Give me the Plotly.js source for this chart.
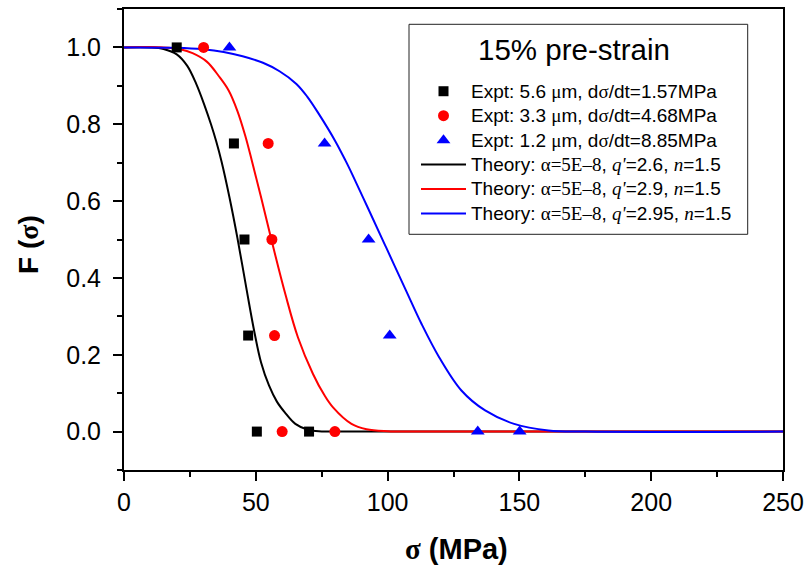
<!DOCTYPE html>
<html>
<head>
<meta charset="utf-8">
<script src="https://cdn.plot.ly/plotly-3.0.1.min.js"></script>
<style>html,body{margin:0;padding:0;background:#fff;}#chart{width:809px;height:570px;}</style>
</head>
<body>
<div id="chart"></div>
<script>
// Experimental data (sigma in MPa, F(sigma))
var exptA_x = [20, 41.7, 45.7, 47.1, 50.4, 70.2];
var exptA_y = [1.0, 0.75, 0.5, 0.25, 0.0, 0.0];
var exptB_x = [30.2, 54.7, 56.1, 57.1, 60.0, 80.0];
var exptB_y = [1.0, 0.75, 0.5, 0.25, 0.0, 0.0];
var exptC_x = [40.0, 76.1, 92.8, 100.8, 134.2, 150.1];
var exptC_y = [1.0, 0.75, 0.5, 0.25, 0.0, 0.0];

// Theory curves
var theoryA_x = [0, 10, 15, 20, 24, 27.4, 30.5, 33, 35, 37, 40, 43, 46.5, 49.5, 52, 55, 58, 61, 65, 70, 75, 80, 250];
var theoryA_y = [1, 1, 0.996, 0.982, 0.952, 0.905, 0.85, 0.80, 0.755, 0.703, 0.61, 0.505, 0.37, 0.258, 0.18, 0.12, 0.078, 0.05, 0.02, 0.004, 0.0005, 0, 0];
var theoryB_x = [0, 15, 21.3, 26, 31.4, 36, 39.7, 43, 46, 48.5, 52, 55.9, 61.2, 66, 71.7, 76, 79.3, 86.3, 92, 100, 110, 250];
var theoryB_y = [1, 1, 0.995, 0.985, 0.963, 0.925, 0.888, 0.835, 0.77, 0.705, 0.61, 0.5, 0.358, 0.245, 0.15, 0.095, 0.063, 0.02, 0.006, 0.001, 0, 0];
var theoryC_x = [0, 20, 30, 37.8, 45, 52.7, 59, 65.4, 69.5, 73.9, 80, 84, 86.5, 92.4, 99.4, 107, 112.9, 119.6, 128, 137, 148, 161, 175, 250];
var theoryC_y = [1, 0.999, 0.995, 0.988, 0.977, 0.96, 0.938, 0.905, 0.872, 0.827, 0.758, 0.706, 0.671, 0.584, 0.48, 0.367, 0.28, 0.193, 0.107, 0.055, 0.02, 0.003, 0, 0];

var xTickVals = [0, 50, 100, 150, 200, 250];
var yTickVals = [0.0, 0.2, 0.4, 0.6, 0.8, 1.0];

var SERIF = 'font-family:Liberation Serif,Times New Roman,serif';
var SZ = 'font-size:19px;';
function wrap(s) { return '<span style="' + SZ + '">' + s + '</span>'; }
function sym(c) { return '<span style="' + SZ + SERIF + '">' + c + '</span>'; }
var nameA = wrap('Expt: 5.6 ') + sym('μ') + wrap('m, d') + sym('σ') + wrap('/dt=1.57MPa');
var nameB = wrap('Expt: 3.3 ') + sym('μ') + wrap('m, d') + sym('σ') + wrap('/dt=4.68MPa');
var nameC = wrap('Expt: 1.2 ') + sym('μ') + wrap('m, d') + sym('σ') + wrap('/dt=8.85MPa');
function theoryName(q) {
  return wrap('Theory: ') + sym('α=5E–8') + wrap(', ') +
         '<span style="' + SZ + SERIF + ';font-style:italic">q\'</span>' + wrap('=' + q + ', ') +
         '<span style="' + SZ + SERIF + ';font-style:italic">n</span>' + wrap('=1.5');
}

var traces = [
  {x: theoryA_x, y: theoryA_y, mode: 'lines', line: {color: '#000000', width: 2, shape: 'spline', smoothing: 1}, name: theoryName('2.6'), legendrank: 4},
  {x: theoryB_x, y: theoryB_y, mode: 'lines', line: {color: '#ff0000', width: 2, shape: 'spline', smoothing: 1}, name: theoryName('2.9'), legendrank: 5},
  {x: theoryC_x, y: theoryC_y, mode: 'lines', line: {color: '#0000ff', width: 2, shape: 'spline', smoothing: 1}, name: theoryName('2.95'), legendrank: 6},
  {x: exptA_x, y: exptA_y, mode: 'markers', marker: {symbol: 'square', size: 10, color: '#000000'}, name: nameA, legendrank: 1},
  {x: exptB_x, y: exptB_y, mode: 'markers', marker: {symbol: 'circle', size: 11, color: '#ff0000'}, name: nameB, legendrank: 2},
  {x: exptC_x, y: exptC_y, mode: 'markers', marker: {symbol: 'triangle-up', size: 12, color: '#0000ff'}, name: nameC, legendrank: 3}
];

var FONT = 'Arial, Liberation Sans, sans-serif';
var L = 124, R = 26, T = 9, B = 100, W = 809, H = 570;
var pw = W - L - R, ph = H - T - B;
function px2x(p) { return (p - L) / pw; }
function px2y(p) { return (H - B - p) / ph; }

var layout = {
  width: W, height: H,
  margin: {l: L, r: R, t: T, b: B, pad: 0},
  paper_bgcolor: '#ffffff', plot_bgcolor: '#ffffff',
  font: {family: FONT, color: '#000000'},
  showlegend: true,
  legend: {
    x: px2x(416), y: px2y(74), xanchor: 'left', yanchor: 'top',
    bgcolor: 'rgba(0,0,0,0)', borderwidth: 0,
    font: {family: FONT, size: 16.5, color: '#000000'},
    itemwidth: 45, tracegroupgap: 0
  },
  xaxis: {
    range: [0, 250], tickvals: xTickVals, ticktext: xTickVals.map(String),
    showline: true, linecolor: '#000000', linewidth: 2, mirror: true,
    ticks: 'outside', ticklen: 9, tickwidth: 2, tickcolor: '#000000',
    minor: {ticks: 'outside', ticklen: 5, tickwidth: 2, tickcolor: '#000000', dtick: 25, tick0: 0, showgrid: false},
    showgrid: false, zeroline: false,
    tickfont: {family: FONT, size: 25, color: '#000000'}
  },
  yaxis: {
    range: [-0.1, 1.1], tickvals: yTickVals, ticktext: yTickVals.map(function (v) { return v.toFixed(1); }),
    showline: true, linecolor: '#000000', linewidth: 2, mirror: true,
    ticks: 'outside', ticklen: 9, tickwidth: 2, tickcolor: '#000000',
    minor: {ticks: 'outside', ticklen: 5, tickwidth: 2, tickcolor: '#000000', dtick: 0.1, tick0: 0, showgrid: false},
    showgrid: false, zeroline: false, ticklabelstandoff: 7,
    tickfont: {family: FONT, size: 25, color: '#000000'}
  },
  shapes: [
    {type: 'rect', xref: 'paper', yref: 'paper', x0: px2x(409), x1: px2x(747.7), y0: px2y(234.3), y1: px2y(24.3),
     line: {color: '#222222', width: 1}, fillcolor: 'rgba(0,0,0,0)'}
  ],
  annotations: [
    {xref: 'paper', yref: 'paper', x: px2x(574.3), y: px2y(49.3), text: '15% pre-strain', showarrow: false,
     xanchor: 'center', yanchor: 'middle', font: {family: FONT, size: 29.5, color: '#000000'}},
    {xref: 'paper', yref: 'paper', x: px2x(456.5), y: px2y(549), text: '<b><span style="' + SERIF + '">σ</span> (MPa)</b>', showarrow: false,
     xanchor: 'center', yanchor: 'middle', font: {family: FONT, size: 29, color: '#000000'}},
    {xref: 'paper', yref: 'paper', x: px2x(28), y: px2y(245), text: '<b>F (<span style="' + SERIF + '">σ</span>)</b>', showarrow: false,
     textangle: -90, xanchor: 'center', yanchor: 'middle', font: {family: FONT, size: 28, color: '#000000'}}
  ]
};

Plotly.newPlot('chart', traces, layout, {displayModeBar: false, staticPlot: true});
</script>
</body>
</html>
